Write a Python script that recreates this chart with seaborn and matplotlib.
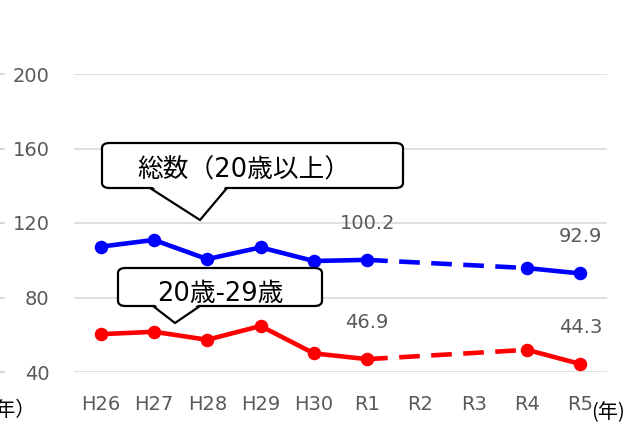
import numpy as np
import pandas as pd
import matplotlib
matplotlib.use("Agg")
import matplotlib.pyplot as plt
import seaborn as sns
from matplotlib.patches import FancyBboxPatch, Polygon
from matplotlib.lines import Line2D
from matplotlib.transforms import blended_transform_factory

years = ['H26', 'H27', 'H28', 'H29', 'H30', 'R1', 'R2', 'R3', 'R4', 'R5']
total = [107.3, 110.9, 100.6, 106.9, 99.6, 100.2, np.nan, np.nan, 95.8, 92.9]
young = [60.3, 61.6, 57.3, 64.7, 50.0, 46.9, np.nan, np.nan, 51.9, 44.3]
yticks = [40, 80, 120, 160, 200]
label_total = "総数（20歳以上）"
label_young = "20歳-29歳"
unit_left = "（年）"
unit_right = "(年)"
labeled_idx = [5, 9]

sns.set_theme(style="white")
plt.rcParams['font.family'] = ['DejaVu Sans', 'Noto Sans CJK JP']

W, H = 638, 425
fig = plt.figure(figsize=(W / 100, H / 100), dpi=100)
ax = fig.add_axes([74 / W, 1 - 372 / H, (607 - 74) / W, (372 - 74) / H])

gray = '#595959'
for yt in yticks:
    ax.axhline(yt, color='#d9d9d9', lw=1.2, zorder=0)

# small clipped tick remnants at far left
btr = blended_transform_factory(fig.transFigure, ax.transData)
for yt in yticks:
    fig.add_artist(Line2D([0, 4 / W], [yt, yt], transform=btr, color='#cfcfcf', lw=1.2))

def draw_series(vals, color):
    idx = np.arange(len(vals))
    v = np.array(vals, dtype=float)
    valid = ~np.isnan(v)
    runs = []
    start = None
    for i in range(len(v)):
        if valid[i] and start is None:
            start = i
        if (not valid[i] or i == len(v) - 1) and start is not None:
            end = i if valid[i] else i - 1
            runs.append((start, end))
            start = None
    for s, e in runs:
        sns.lineplot(x=idx[s:e + 1], y=v[s:e + 1], ax=ax, color=color, lw=3.3,
                     solid_capstyle='round', zorder=3)
    for (s1, e1), (s2, e2) in zip(runs[:-1], runs[1:]):
        sns.lineplot(x=[idx[e1], idx[s2]], y=[v[e1], v[s2]], ax=ax, color=color,
                     lw=3.3, zorder=3)
        ax.lines[-1].set_linestyle((0, (4.5, 2.5)))
    sns.scatterplot(x=idx[valid], y=v[valid], ax=ax, color=color, s=95,
                    edgecolor=color, linewidth=0, zorder=4, clip_on=False)
    for i in labeled_idx:
        ax.annotate(f"{v[i]:.1f}", (idx[i], v[i]), xytext=(0, 26.5),
                    textcoords='offset points', ha='center', va='center',
                    fontsize=14, color=gray)

draw_series(total, '#0000ff')
draw_series(young, '#ff0000')

ax.set_xlim(-0.5, len(years) - 0.5)
ax.set_ylim(40, 200)
ax.set_xticks(range(len(years)))
ax.set_xticklabels(years)
ax.set_yticks(yticks)
ax.tick_params(axis='both', length=0, labelsize=14, labelcolor=gray)
ax.tick_params(axis='y', pad=17.5)
ax.tick_params(axis='x', pad=16.5)
ax.set_xlabel('')
ax.set_ylabel('')
for s in ax.spines.values():
    s.set_visible(False)

def fx(px):
    return px / W

def fy(py):
    return 1 - py / H

def callout(x0, y0, x1, y1, p1, tip, p2, text, tx, ty):
    box = FancyBboxPatch((fx(x0), fy(y1)), fx(x1) - fx(x0), fy(y0) - fy(y1),
                         boxstyle="round,pad=0,rounding_size=0.012",
                         transform=fig.transFigure, facecolor='white',
                         edgecolor='black', lw=1.6, zorder=5)
    fig.add_artist(box)
    poly = Polygon([(fx(p1 + 1), fy(y1 - 2)), (fx(tip[0]), fy(tip[1])),
                    (fx(p2 - 1), fy(y1 - 2))], closed=True,
                   transform=fig.transFigure, facecolor='white',
                   edgecolor='none', zorder=6)
    fig.add_artist(poly)
    ln = Line2D([fx(p1), fx(tip[0]), fx(p2)], [fy(y1), fy(tip[1]), fy(y1)],
                transform=fig.transFigure, color='black', lw=1.6, zorder=7,
                solid_joinstyle='miter')
    fig.add_artist(ln)
    fig.text(fx(tx), fy(ty), text, ha='center', va='center', fontsize=18.5,
             color='black', zorder=8)

callout(102, 143, 403, 188, 150, (200, 220), 227, label_total, 244, 171)
callout(118, 268, 322, 306, 153, (175, 323), 200, label_young, 220, 294)

fig.text(35 / W, fy(410), unit_left, ha='right', va='center', fontsize=14.5,
         color='black', family=['Noto Sans CJK JP'])
fig.text(591 / W, fy(413), unit_right, ha='left', va='center', fontsize=14.5,
         color='black', family=['Noto Sans CJK JP'])

fig.savefig('out.png', dpi=100)
